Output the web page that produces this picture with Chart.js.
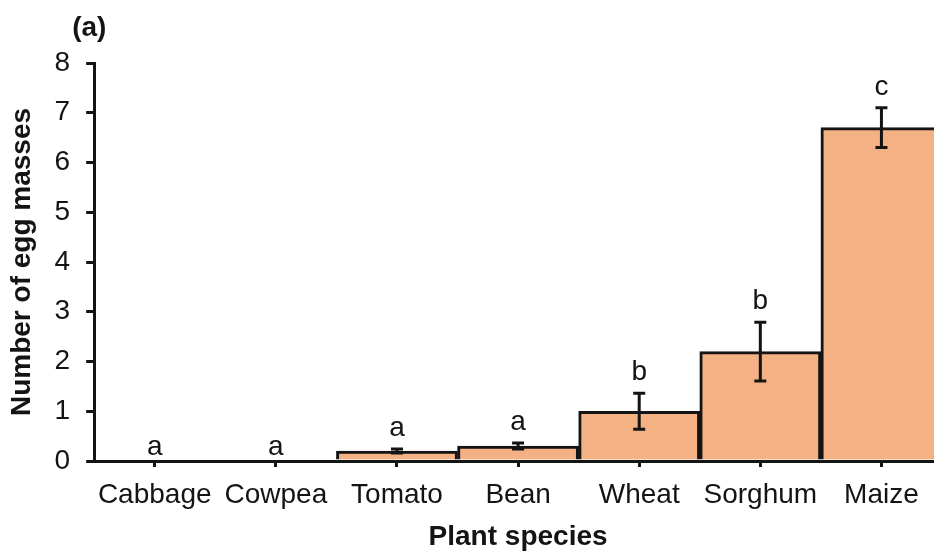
<!DOCTYPE html>
<html lang="en">
<head>
  <meta charset="UTF-8" />
  <title>Egg masses by plant species</title>
  <script src="https://cdn.jsdelivr.net/npm/chart.js"></script>
  <style>
    html, body { margin: 0; padding: 0; background: #fff; overflow: hidden; }
    #wrap { position: absolute; left: 0; top: 0; width: 944px; height: 552px; }
  </style>
</head>
<body>
  <div id="wrap"><canvas id="eggChart"></canvas></div>

  <script>
    // data
    const species = ["Cabbage", "Cowpea", "Tomato", "Bean", "Wheat", "Sorghum", "Maize"];
    const eggMasses = [0, 0, 0.2, 0.3, 1.0, 2.2, 6.7];
    const errors = [0, 0, 0.04, 0.06, 0.36, 0.59, 0.4];
    const letters = ["a", "a", "a", "a", "b", "b", "c"];
    const yTicks = [0, 1, 2, 3, 4, 5, 6, 7, 8];

    const font = "'Liberation Sans', Arial, sans-serif";
    const ink = "#141414";

    // error bars, significance letters and panel label
    const extras = {
      id: "extras",
      afterDatasetsDraw(chart) {
        const ctx = chart.ctx;
        const x = chart.scales.x, y = chart.scales.y;
        ctx.save();
        ctx.strokeStyle = ink;
        ctx.lineWidth = 3;
        ctx.fillStyle = ink;
        ctx.font = "28px " + font;
        ctx.textAlign = "center";
        ctx.textBaseline = "alphabetic";
        species.forEach((s, i) => {
          const cx = x.getPixelForValue(i);
          const hi = y.getPixelForValue(eggMasses[i] + errors[i]);
          const lo = y.getPixelForValue(eggMasses[i] - errors[i]);
          if (errors[i] > 0) {
            ctx.beginPath();
            ctx.moveTo(cx, hi); ctx.lineTo(cx, lo);
            ctx.moveTo(cx - 6, hi); ctx.lineTo(cx + 6, hi);
            ctx.moveTo(cx - 6, lo); ctx.lineTo(cx + 6, lo);
            ctx.stroke();
          }
          ctx.fillText(letters[i], cx, hi - (errors[i] > 0 ? 13 : 6));
        });
        ctx.font = "bold 28px " + font;
        ctx.textAlign = "left";
        ctx.textBaseline = "middle";
        ctx.fillText("(a)", chart.chartArea.left - 22, 28);
        ctx.restore();
      }
    };

    new Chart(document.getElementById("eggChart"), {
      type: "bar",
      data: {
        labels: species,
        datasets: [{
          label: "Number of egg masses",
          data: eggMasses,
          backgroundColor: "#f4b183",
          borderColor: ink,
          borderWidth: 3,
          barPercentage: 1,
          categoryPercentage: 1
        }]
      },
      options: {
        responsive: true,
        maintainAspectRatio: false,
        animation: false,
        layout: { padding: { top: 63, right: 2, bottom: 0, left: 0 } },
        plugins: {
          legend: { display: false },
          tooltip: { enabled: false }
        },
        scales: {
          x: {
            grid: {
              offset: false,
              drawOnChartArea: false,
              drawTicks: true,
              tickLength: 6,
              color: ink,
              lineWidth: 3
            },
            border: { display: true, color: ink, width: 3 },
            ticks: { color: ink, font: { family: font, size: 28, lineHeight: 1 }, padding: 14, maxRotation: 0 },
            title: {
              display: true,
              text: "Plant species",
              color: ink,
              font: { family: font, size: 28, weight: "bold", lineHeight: 1 },
              padding: { top: 0, bottom: 1 }
            }
          },
          y: {
            min: 0,
            max: 8,
            afterBuildTicks(scale) { scale.ticks = yTicks.map(v => ({ value: v })); },
            grid: {
              drawOnChartArea: false,
              drawTicks: true,
              tickLength: 8,
              color: ink,
              lineWidth: 3
            },
            border: { display: true, color: ink, width: 3 },
            ticks: { color: ink, font: { family: font, size: 28 }, padding: 16 },
            title: {
              display: true,
              text: "Number of egg masses",
              color: ink,
              font: { family: font, size: 28, weight: "bold" },
              padding: { top: 5, bottom: 0 }
            }
          }
        }
      },
      plugins: [extras]
    });
  </script>
</body>
</html>
